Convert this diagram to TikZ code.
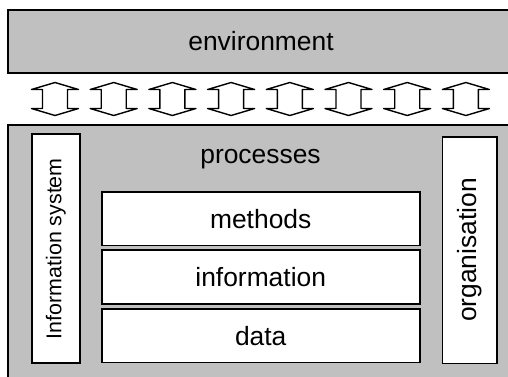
\documentclass[tikz,border=0pt]{standalone}
\usepackage{fontspec}
\setsansfont{Liberation Sans}
\usetikzlibrary{positioning}
\definecolor{layerfill}{HTML}{C0C0C0}

\begin{document}
\begin{tikzpicture}[
  x=1pt, y=-1pt,
  font=\sffamily\fontsize{26.4}{30}\selectfont,
  layer/.style={
    rectangle, draw=black, line width=1.6pt,
    fill=layerfill,
    inner sep=0pt
  },
  block/.style={
    rectangle, draw=black, line width=1.6pt,
    fill=white,
    minimum width=318pt, minimum height=53.8pt,
    inner sep=0pt
  },
  pillar/.style={
    rectangle, draw=black, line width=1.6pt,
    fill=white,
    rotate=90,
    inner sep=0pt
  },
  exchange/.style={draw=black, fill=white, line width=1.4pt, line join=round},
  smalllabel/.style={font=\sffamily\fontsize{21.4}{25}\selectfont}
]

% =============================================================================
% Page frame (units = px, y grows downward); the two layers run off the page
% =============================================================================
\useasboundingbox (0,0) rectangle (508,376);
\clip (0,0) rectangle (508,376);

% --- Top layer: environment
\node[layer, minimum width=506pt, minimum height=62.7pt] (environment)
  at (261, 41.35) {environment};

% --- Exchange arrows between the layers
\foreach \i in {0,...,7} {
  \draw[exchange, shift={(55+58.7*\i, 99)}]
    (0,-16.5) -- (23.5,-9.5) -- (12.5,-9.5) -- (12.5,9.5) -- (23.5,9.5)
    -- (0,16.5) -- (-23.5,9.5) -- (-12.5,9.5) -- (-12.5,-9.5) -- (-23.5,-9.5)
    -- cycle;
}

% --- Bottom layer: processes
\node[layer, minimum width=506pt, minimum height=270pt] (processes)
  at (261, 260) {};
\node[anchor=base] (processlabel) at (260.5, 163.3) {processes};

% --- Side pillars
\node[pillar, smalllabel, minimum width=229pt, minimum height=48.3pt] (infosys)
  at (55.85, 248.65) {Information system};
\node[pillar, minimum width=226.6pt, minimum height=54.4pt] (organisation)
  at (469.5, 250) {organisation};

% --- Stack in the middle
\node[block] (methods) at (260.7, 218.6) {methods};
\node[block, below=3.1pt of methods] (information) {information};
\node[block, below=3.1pt of information] (data) {data};

\end{tikzpicture}
\end{document}
